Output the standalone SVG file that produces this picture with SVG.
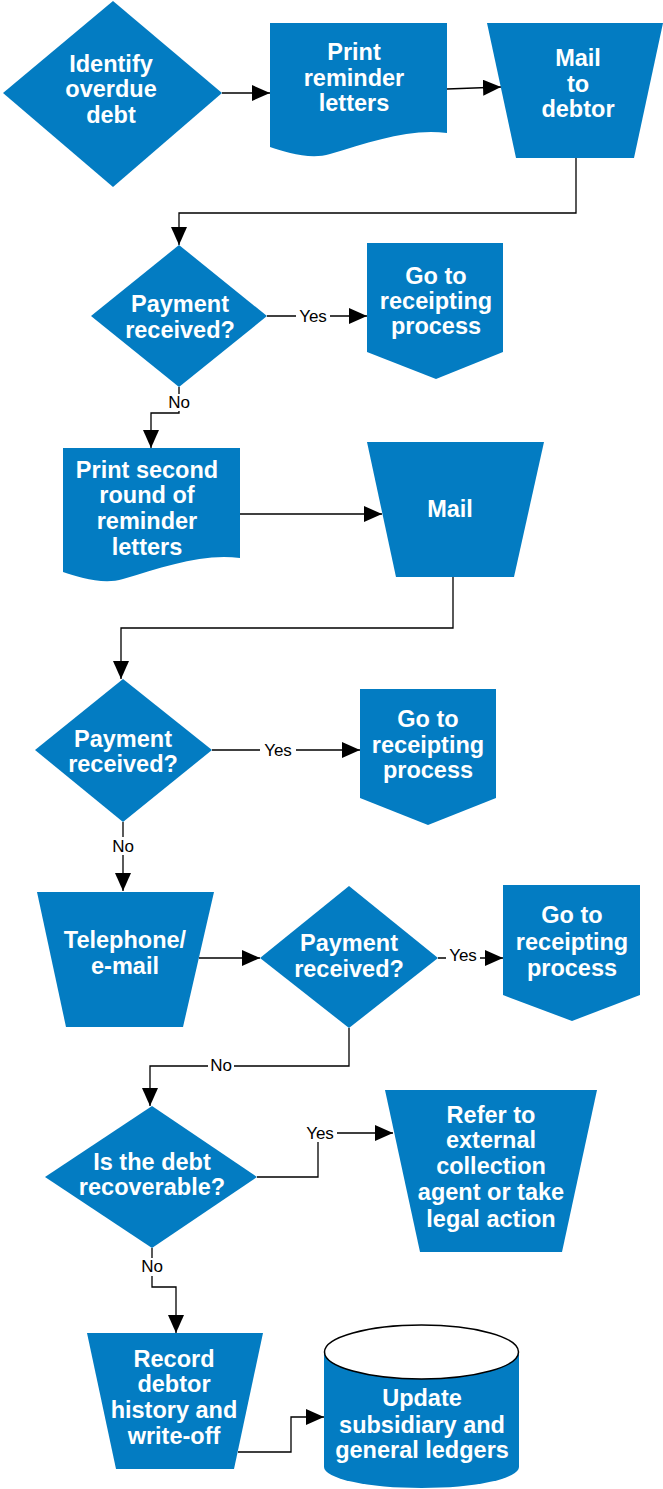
<svg xmlns="http://www.w3.org/2000/svg" width="663" height="1489" viewBox="0 0 663 1489">
<style>
.s{fill:#037CC2;stroke:none}
.t{font-family:"Liberation Sans",Arial,sans-serif;font-weight:bold;font-size:23.5px;fill:#fff;text-anchor:middle}
.c{fill:none;stroke:#000;stroke-width:1.3;marker-end:url(#ah)}
.l{font-family:"Liberation Sans",Arial,sans-serif;font-size:17px;fill:#000;text-anchor:middle}
.bg{fill:#fff}
</style>
<defs>
<marker id="ah" viewBox="0 0 18 16" refX="18" refY="8" markerWidth="18" markerHeight="16" markerUnits="userSpaceOnUse" orient="auto">
<path d="M0,0 L18,8 L0,16 Z" fill="#000"/>
</marker>
</defs>
<rect width="663" height="1489" fill="#fff"/>
<g id="connectors">
<path class="c" d="M222,93 H270"/>
<path class="c" d="M447,89 L501,87"/>
<path class="c" d="M576,158 V213 H179 V245"/>
<path class="c" d="M267,316 H367"/>
<path class="c" d="M179,387 V413 H151 V448"/>
<path class="c" d="M240,514 H382"/>
<path class="c" d="M453,577 V628 H121 V679"/>
<path class="c" d="M212,750 H360"/>
<path class="c" d="M123,822 V891"/>
<path class="c" d="M199,958 H260"/>
<path class="c" d="M438,958 H503"/>
<path class="c" d="M349,1028 V1066 H150 V1106"/>
<path class="c" d="M257,1177 H318 V1133 H393"/>
<path class="c" d="M152,1248 V1287 H176 V1333"/>
<path class="c" d="M238,1452 H291 V1417 H324"/>
<rect class="bg" x="296" y="307" width="34" height="18"/>
<text class="l" x="313" y="322">Yes</text>
<rect class="bg" x="167" y="394" width="24" height="17"/>
<text class="l" x="179" y="408">No</text>
<rect class="bg" x="260" y="741" width="36" height="18"/>
<text class="l" x="278" y="756">Yes</text>
<rect class="bg" x="111" y="837" width="24" height="18"/>
<text class="l" x="123" y="852">No</text>
<rect class="bg" x="446" y="946" width="34" height="18"/>
<text class="l" x="463" y="961">Yes</text>
<rect class="bg" x="208" y="1057" width="26" height="18"/>
<text class="l" x="221" y="1071">No</text>
<rect class="bg" x="303" y="1124" width="34" height="18"/>
<text class="l" x="320" y="1139">Yes</text>
<rect class="bg" x="140" y="1258" width="24" height="18"/>
<text class="l" x="152" y="1272">No</text>
</g>
<g id="identify">
<path class="s" d="M3,93 L113,1 L222,93 L113,187 Z"/>
<text class="t"><tspan x="111" y="72">Identify</tspan><tspan x="111" y="97">overdue</tspan><tspan x="111" y="123">debt</tspan></text>
</g>
<g id="print1">
<path class="s" d="M270,23 H447 V133 C410,128 370,142 330,154 C310,160 285,152 270,147 Z"/>
<text class="t"><tspan x="354" y="60">Print</tspan><tspan x="354" y="86">reminder</tspan><tspan x="354" y="111">letters</tspan></text>
</g>
<g id="mail1">
<path class="s" d="M487,23 H663 L634,158 H516 Z"/>
<text class="t"><tspan x="578" y="66">Mail</tspan><tspan x="578" y="92">to</tspan><tspan x="578" y="117">debtor</tspan></text>
</g>
<g id="payment1">
<path class="s" d="M91,316 L179,245 L267,316 L179,387 Z"/>
<text class="t"><tspan x="180" y="312">Payment</tspan><tspan x="180" y="338">received?</tspan></text>
</g>
<g id="receipt1">
<path class="s" d="M367,243 H503 V352 L436,379 L367,352 Z"/>
<text class="t"><tspan x="436" y="284">Go to</tspan><tspan x="436" y="309">receipting</tspan><tspan x="436" y="334">process</tspan></text>
</g>
<g id="print2">
<path class="s" d="M63,448 H240 V558 C203,553 163,567 123,579 C103,585 78,577 63,572 Z"/>
<text class="t"><tspan x="147" y="478">Print second</tspan><tspan x="147" y="503">round of</tspan><tspan x="147" y="529">reminder</tspan><tspan x="147" y="555">letters</tspan></text>
</g>
<g id="mail2">
<path class="s" d="M367,442 H544 L514,577 H396 Z"/>
<text class="t" x="450" y="517">Mail</text>
</g>
<g id="payment2">
<path class="s" d="M35,750 L123,679 L212,750 L123,822 Z"/>
<text class="t"><tspan x="123" y="747">Payment</tspan><tspan x="123" y="772">received?</tspan></text>
</g>
<g id="receipt2">
<path class="s" d="M360,689 H496 V798 L428,825 L360,798 Z"/>
<text class="t"><tspan x="428" y="727">Go to</tspan><tspan x="428" y="753">receipting</tspan><tspan x="428" y="778">process</tspan></text>
</g>
<g id="telephone">
<path class="s" d="M37,892 H214 L183,1027 H66 Z"/>
<text class="t"><tspan x="125" y="948">Telephone/</tspan><tspan x="125" y="974">e-mail</tspan></text>
</g>
<g id="payment3">
<path class="s" d="M260,958 L349,886 L438,958 L349,1028 Z"/>
<text class="t"><tspan x="349" y="951">Payment</tspan><tspan x="349" y="977">received?</tspan></text>
</g>
<g id="receipt3">
<path class="s" d="M503,885 H640 V995 L572,1021 L503,995 Z"/>
<text class="t"><tspan x="572" y="923">Go to</tspan><tspan x="572" y="950">receipting</tspan><tspan x="572" y="976">process</tspan></text>
</g>
<g id="recoverable">
<path class="s" d="M45,1177 L152,1106 L257,1177 L152,1248 Z"/>
<text class="t"><tspan x="152" y="1170">Is the debt</tspan><tspan x="152" y="1195">recoverable?</tspan></text>
</g>
<g id="refer">
<path class="s" d="M385,1090 H597 L562,1252 H420 Z"/>
<text class="t"><tspan x="491" y="1123">Refer to</tspan><tspan x="491" y="1148">external</tspan><tspan x="491" y="1174">collection</tspan><tspan x="491" y="1200">agent or take</tspan><tspan x="491" y="1227">legal action</tspan></text>
</g>
<g id="record">
<path class="s" d="M87,1333 H263 L234,1469 H116 Z"/>
<text class="t"><tspan x="174" y="1367">Record</tspan><tspan x="174" y="1392">debtor</tspan><tspan x="174" y="1418">history and</tspan><tspan x="174" y="1444">write-off</tspan></text>
</g>
<g id="ledgers">
<path class="s" d="M324,1352 V1467 A97.5,21 0 0 0 519,1467 V1352 Z"/>
<ellipse cx="421.5" cy="1352" rx="97" ry="27" fill="#fff" stroke="#000" stroke-width="1.5"/>
<text class="t"><tspan x="422" y="1406">Update</tspan><tspan x="422" y="1433">subsidiary and</tspan><tspan x="422" y="1458">general ledgers</tspan></text>
</g>
</svg>
